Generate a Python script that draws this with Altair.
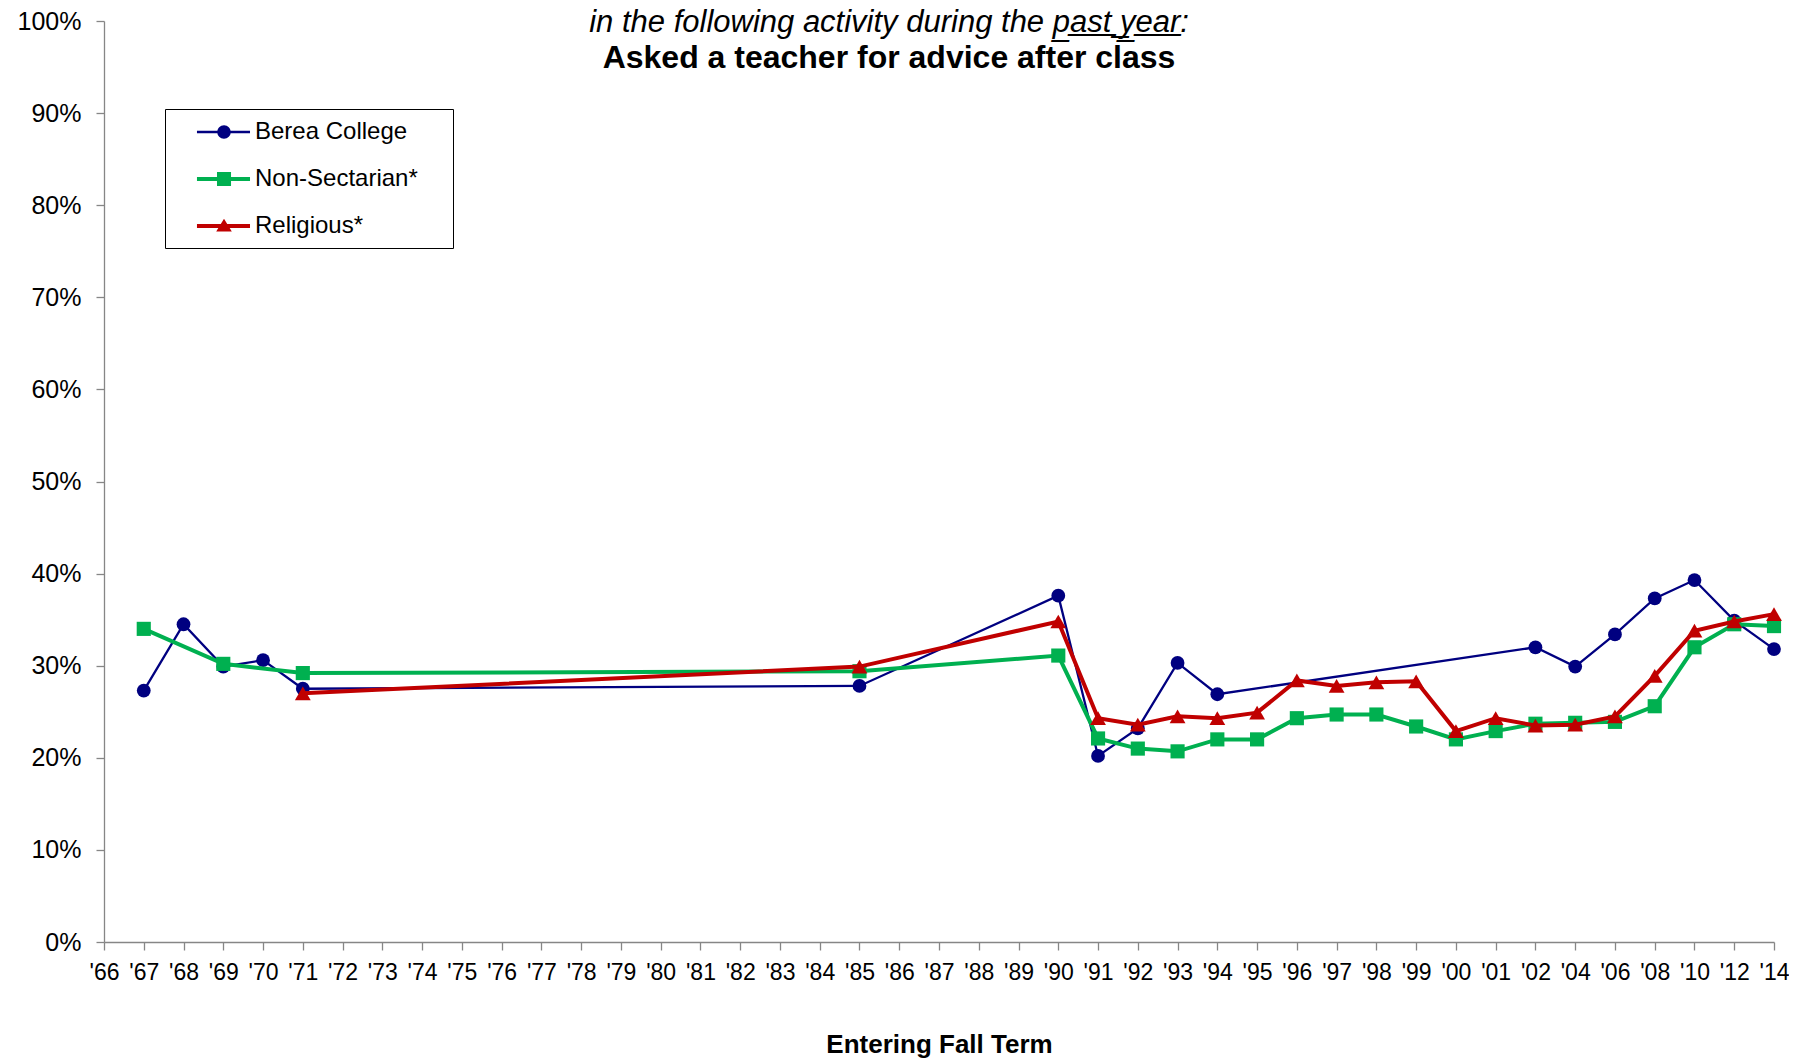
import altair as alt
import pandas as pd

# ---------------- data ----------------
years = ["'66", "'67", "'68", "'69", "'70", "'71", "'72", "'73", "'74", "'75", "'76", "'77",
         "'78", "'79", "'80", "'81", "'82", "'83", "'84", "'85", "'86", "'87", "'88", "'89",
         "'90", "'91", "'92", "'93", "'94", "'95", "'96", "'97", "'98", "'99", "'00", "'01",
         "'02", "'04", "'06", "'08", "'10", "'12", "'14"]

series_names = ["Berea College", "Non-Sectarian*", "Religious*"]

berea_years = ["'67", "'68", "'69", "'70", "'71", "'85", "'90", "'91", "'92", "'93", "'94",
               "'02", "'04", "'06", "'08", "'10", "'12", "'14"]
berea_vals = [27.3, 34.5, 29.9, 30.6, 27.5, 27.8, 37.6, 20.2, 23.2, 30.3, 26.9,
              32.0, 29.9, 33.4, 37.3, 39.3, 34.9, 31.8]

nonsec_years = ["'67", "'69", "'71", "'85", "'90", "'91", "'92", "'93", "'94", "'95", "'96",
                "'97", "'98", "'99", "'00", "'01", "'02", "'04", "'06", "'08", "'10", "'12", "'14"]
nonsec_vals = [34.0, 30.2, 29.2, 29.4, 31.1, 22.1, 21.0, 20.7, 22.0, 22.0, 24.3,
               24.7, 24.7, 23.4, 22.0, 22.9, 23.7, 23.8, 23.9, 25.6, 32.0, 34.5, 34.3]

relig_years = ["'71", "'85", "'90", "'91", "'92", "'93", "'94", "'95", "'96", "'97", "'98",
               "'99", "'00", "'01", "'02", "'04", "'06", "'08", "'10", "'12", "'14"]
relig_vals = [27.0, 29.9, 34.8, 24.3, 23.6, 24.5, 24.3, 24.9, 28.4, 27.8, 28.2,
              28.3, 22.9, 24.3, 23.5, 23.6, 24.5, 28.9, 33.8, 34.8, 35.6]

y_ticks = [0, 10, 20, 30, 40, 50, 60, 70, 80, 90, 100]


def underline(word):
    return "".join(c + "\u0332" for c in word)


title_line1 = "in the following activity during the " + underline("past\u00a0year") + ":"
title_line2 = "Asked a teacher for advice after class"
x_title = "Entering Fall Term"

# ---------------- styles ----------------
FONT = "Liberation Sans"
colors = ["#000080", "#00B050", "#C00000"]
widths = [2.3, 4, 4]
shapes = ["circle", "square", "triangle-up"]
sizes = [190, 200, 250]
AXIS_GREY = "#868686"


def seg(x1, x2, t):
    return f"M{x1:.3f},{-t:.3f}L{x2:.3f},{-t:.3f}L{x2:.3f},{t:.3f}L{x1:.3f},{t:.3f}Z"


# legend symbol paths: line segment + marker (unit = sqrt(size)/2 px)
CX, L0, L1 = 2.77, 0.69, 4.77


def circle_path(r, t):
    return (seg(L0, CX - r + 0.05, t) + seg(CX + r - 0.05, L1, t) +
            f"M{CX + r:.3f},0A{r},{r} 0 1,1 {CX - r:.3f},0A{r},{r} 0 1,1 {CX + r:.3f},0Z")


def square_path(h, t):
    return (seg(L0, L1, t) +
            f"M{CX - h:.3f},{-h:.3f}L{CX + h:.3f},{-h:.3f}L{CX + h:.3f},{h:.3f}L{CX - h:.3f},{h:.3f}Z")


def tri_path(h, t):
    return (seg(L0, L1, t) +
            f"M{CX:.3f},{-0.55:.3f}L{CX + h:.3f},{0.42:.3f}L{CX - h:.3f},{0.42:.3f}Z")


legend_paths = [circle_path(0.52, 0.09), square_path(0.54, 0.15), tri_path(0.6, 0.15)]

# ---------------- frames ----------------
frames = []
for name, yrs, vals in zip(series_names, [berea_years, nonsec_years, relig_years],
                           [berea_vals, nonsec_vals, relig_vals]):
    frames.append(pd.DataFrame({"year": yrs, "value": vals, "series": name,
                                "idx": [years.index(y) for y in yrs]}))
df = pd.concat(frames, ignore_index=True)

x_enc = alt.X("year:O", sort=years,
              scale=alt.Scale(type="point", domain=years, padding=0),
              axis=alt.Axis(title=x_title, titleFontSize=26, titleFontWeight="bold", titleFont=FONT,
                            titleColor="black", titlePadding=47,
                            labelFont=FONT, labelFontSize=23, labelAngle=0, labelOverlap=False,
                            labelColor="black", labelPadding=11, labelFlush=False,
                            tickSize=8, tickColor=AXIS_GREY, domainColor=AXIS_GREY,
                            tickWidth=1.3, domainWidth=1.3, grid=False))
y_enc = alt.Y("value:Q", scale=alt.Scale(domain=[0, 100], nice=False),
              axis=alt.Axis(title=None, values=y_ticks, labelExpr="datum.value + '%'",
                            labelFont=FONT, labelFontSize=25, labelColor="black", labelPadding=15,
                            tickSize=8, tickColor=AXIS_GREY, domainColor=AXIS_GREY,
                            tickWidth=1.3, domainWidth=1.3, grid=False))

base = alt.Chart(df)
layers = []
for name, col, sw, shp, sz in zip(series_names, colors, widths, shapes, sizes):
    sub = base.transform_filter(alt.datum.series == name)
    layers.append(sub.mark_line(color=col, strokeWidth=sw).encode(x=x_enc, y=y_enc, order="idx:Q"))
    layers.append(sub.mark_point(shape=shp, filled=True, color=col, size=sz, opacity=1,
                                 strokeWidth=0).encode(x=x_enc, y=y_enc))

legend_kwargs = dict(title=None, orient="none", legendX=61, legendY=88,
                     symbolSize=676, symbolStrokeWidth=0, symbolOpacity=1,
                     labelFont=FONT, labelFontSize=24, labelColor="black",
                     labelOffset=54, rowPadding=22, padding=10, labelLimit=400,
                     labelExpr="datum.label + '\u00a0\u2800'",
                     strokeColor="black", fillColor="white")

# legend-only layer (no visible marks)
legend_layer = base.transform_filter("false").mark_point(filled=True, opacity=1, size=676).encode(
    x=x_enc, y=y_enc,
    fill=alt.Fill("series:N", scale=alt.Scale(domain=series_names, range=colors),
                  legend=alt.Legend(**legend_kwargs)),
    shape=alt.Shape("series:N", scale=alt.Scale(domain=series_names, range=legend_paths),
                    legend=alt.Legend(**legend_kwargs)),
)

chart = alt.layer(*layers, legend_layer).properties(
    width=1670, height=921,
    autosize=alt.AutoSizeParams(type="none"),
    padding={"left": 96, "top": 13, "right": 15, "bottom": 116},
    title=alt.TitleParams(text=title_line1, subtitle=title_line2, anchor="middle", frame="bounds",
                          font=FONT, fontSize=31, fontStyle="italic", fontWeight="normal",
                          color="black", subtitleFont=FONT, subtitleFontSize=32,
                          subtitleFontWeight="bold", subtitleColor="black", subtitlePadding=4,
                          offset=0, dy=66, dx=-14),
).configure_view(stroke=None).configure_legend(
    labelFont=FONT, labelFontSize=24, strokeColor="black", fillColor="white", labelLimit=400)

chart.save("out.html", embed_options={"renderer": "svg", "actions": False})
